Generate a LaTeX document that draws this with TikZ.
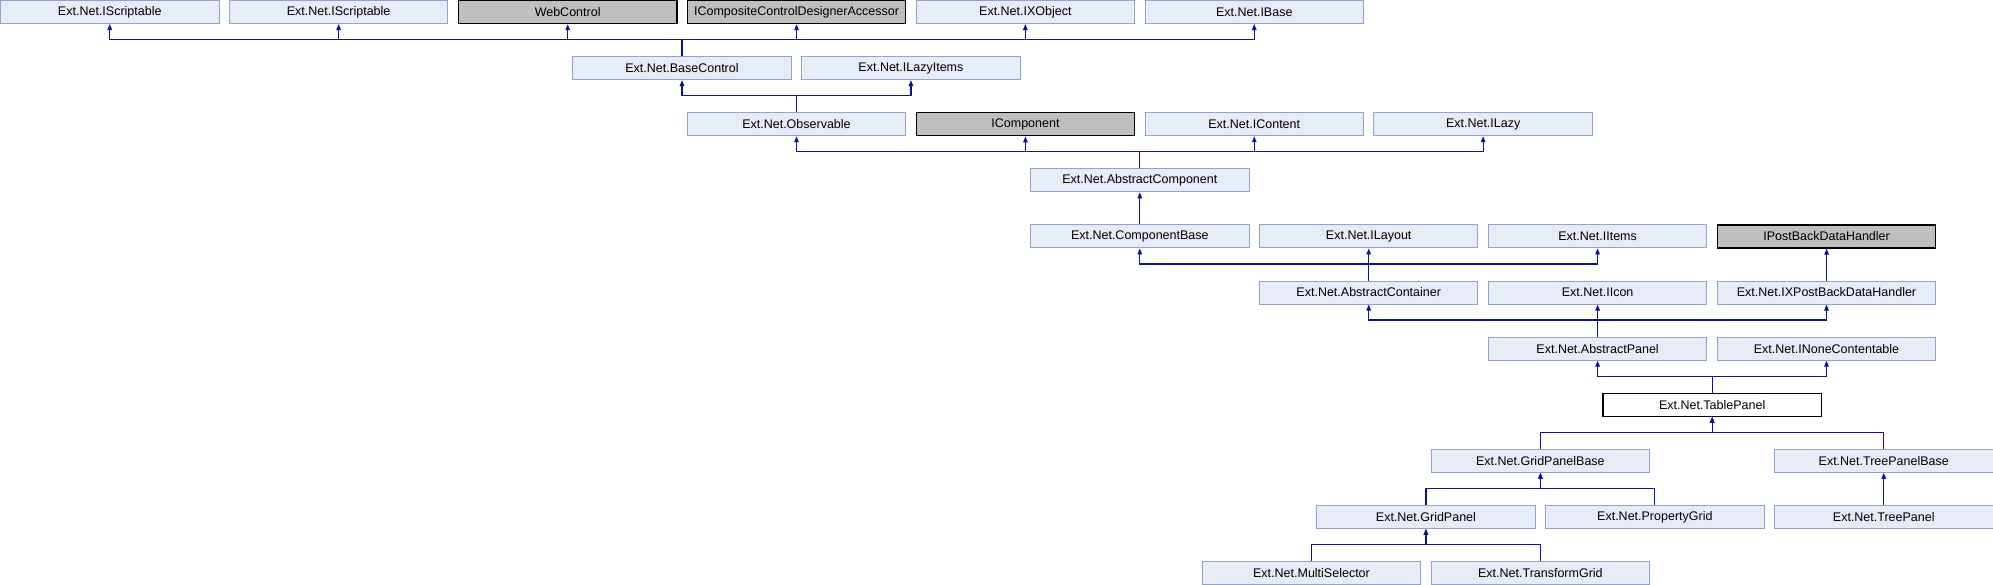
\documentclass[tikz,border=0pt]{standalone}
\usepackage{fontspec}
\setmainfont{Liberation Sans}
\usetikzlibrary{arrows.meta}
\definecolor{boxfill}{HTML}{E6EBF5}
\definecolor{boxline}{HTML}{8FA3D1}
\definecolor{grayfill}{HTML}{BFBFBF}
\definecolor{edgecol}{RGB}{16,16,144}
\tikzset{
  cls/.style={draw=boxline, fill=boxfill, line width=1pt, rectangle, minimum width=218.5pt, minimum height=23pt, inner sep=0pt, anchor=north west, font=\fontsize{12.5}{14}\selectfont},
  ext/.style={cls, draw=black, fill=grayfill, line width=1.2pt},
  cur/.style={cls, draw=black, fill=white, line width=1.2pt},
  inh/.style={draw=edgecol, line width=1.3pt, -{Triangle[width=4.5pt,length=6pt]}},
}
\newcommand{\hh}{114.45}
\newcommand{\pp}{56.1}
\begin{document}
\begin{tikzpicture}[x=1pt,y=-1pt]
\useasboundingbox (0,0) rectangle (1993,584);
% row 0
\node[cls] (is1) at ({0*\hh},{0*\pp}) {Ext.Net.IScriptable};
\node[cls] (is2) at ({2*\hh},{0*\pp}) {Ext.Net.IScriptable};
\node[ext] (wc) at ({4*\hh},{0*\pp}) {WebControl};
\node[ext] (iccda) at ({6*\hh},{0*\pp}) {ICompositeControlDesignerAccessor};
\node[cls] (ixo) at ({8*\hh},{0*\pp}) {Ext.Net.IXObject};
\node[cls] (ib) at ({10*\hh},{0*\pp}) {Ext.Net.IBase};
% row 1
\node[cls] (bc) at ({5*\hh},{1*\pp}) {Ext.Net.BaseControl};
\node[cls] (ili) at ({7*\hh},{1*\pp}) {Ext.Net.ILazyItems};
% row 2
\node[cls] (obs) at ({6*\hh},{2*\pp}) {Ext.Net.Observable};
\node[ext] (icomp) at ({8*\hh},{2*\pp}) {IComponent};
\node[cls] (icont) at ({10*\hh},{2*\pp}) {Ext.Net.IContent};
\node[cls] (ilazy) at ({12*\hh},{2*\pp}) {Ext.Net.ILazy};
% row 3
\node[cls] (ac) at ({9*\hh},{3*\pp}) {Ext.Net.AbstractComponent};
% row 4
\node[cls] (cb) at ({9*\hh},{4*\pp}) {Ext.Net.ComponentBase};
\node[cls] (ilay) at ({11*\hh},{4*\pp}) {Ext.Net.ILayout};
\node[cls] (iit) at ({13*\hh},{4*\pp}) {Ext.Net.IItems};
\node[ext] (ipb) at ({15*\hh},{4*\pp}) {IPostBackDataHandler};
% row 5
\node[cls] (acon) at ({11*\hh},{5*\pp}) {Ext.Net.AbstractContainer};
\node[cls] (iicon) at ({13*\hh},{5*\pp}) {Ext.Net.IIcon};
\node[cls] (ixpb) at ({15*\hh},{5*\pp}) {Ext.Net.IXPostBackDataHandler};
% row 6
\node[cls] (ap) at ({13*\hh},{6*\pp}) {Ext.Net.AbstractPanel};
\node[cls] (inc) at ({15*\hh},{6*\pp}) {Ext.Net.INoneContentable};
% row 7
\node[cur] (tp) at ({14*\hh},{7*\pp}) {Ext.Net.TablePanel};
% row 8
\node[cls] (gpb) at ({12.5*\hh},{8*\pp}) {Ext.Net.GridPanelBase};
\node[cls] (tpb) at ({15.5*\hh},{8*\pp}) {Ext.Net.TreePanelBase};
% row 9
\node[cls] (gp) at ({11.5*\hh},{9*\pp}) {Ext.Net.GridPanel};
\node[cls] (pg) at ({13.5*\hh},{9*\pp}) {Ext.Net.PropertyGrid};
\node[cls] (trp) at ({15.5*\hh},{9*\pp}) {Ext.Net.TreePanel};
% row 10
\node[cls] (ms) at ({10.5*\hh},{10*\pp}) {Ext.Net.MultiSelector};
\node[cls] (tg) at ({12.5*\hh},{10*\pp}) {Ext.Net.TransformGrid};
% edges
\foreach \c/\p in {bc/is1, bc/is2, bc/wc, bc/iccda, bc/ixo, bc/ib,
                   obs/bc, obs/ili,
                   ac/obs, ac/icomp, ac/icont, ac/ilazy,
                   cb/ac,
                   acon/cb, acon/ilay, acon/iit,
                   ixpb/ipb,
                   ap/acon, ap/iicon, ap/ixpb,
                   tp/ap, tp/inc,
                   gpb/tp, tpb/tp,
                   gp/gpb, pg/gpb, trp/tpb,
                   ms/gp, tg/gp}
  \draw[inh] (\c.north) -- ++(0,-16.55) -| (\p.south);
\end{tikzpicture}
\end{document}
